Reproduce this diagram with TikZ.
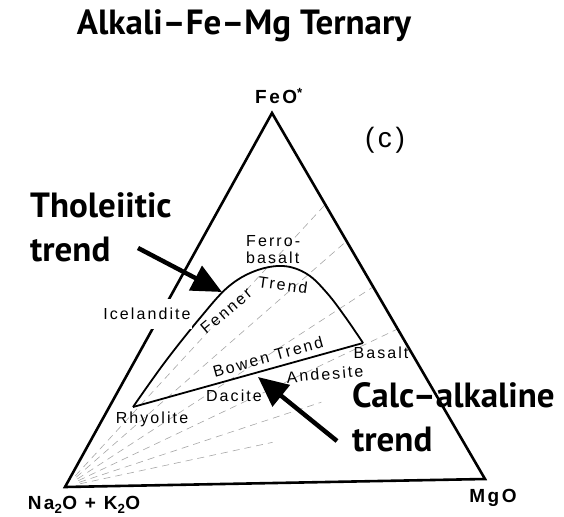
\documentclass[tikz,border=0pt]{standalone}
\usepackage{fontspec}
\setmainfont{Liberation Sans}
\newfontfamily\titlefont{PT Sans}
\newfontfamily\handfont[LetterSpace=13]{Liberation Sans}
\usetikzlibrary{arrows.meta, calc}

\begin{document}
\begin{tikzpicture}[
    x=1pt, y=-1pt,
    every node/.style={inner sep=0pt},
    edge/.style={line width=2.6pt, line join=miter},
    trend/.style={line width=1.8pt},
    tie/.style={gray!70, line width=0.6pt, dash pattern=on 7pt off 5pt},
    pointer/.style={line width=4.5pt, -{Triangle[length=30pt,width=27pt]}},
    bigtext/.style={font=\titlefont\bfseries\fontsize{35}{44}\selectfont, align=left},
    rock/.style={font=\handfont\fontsize{16}{17}\selectfont},
    corner/.style={font=\handfont\bfseries\fontsize{19}{20}\selectfont}
]
\useasboundingbox (0,0) rectangle (564,516);

% Corners
\coordinate (fe) at (272,113);
\coordinate (na) at (65,487);
\coordinate (mg) at (485,479);
\coordinate (rhy) at (133,407);
\coordinate (bas) at (363,343);

% Tie lines
\foreach \t/\f in {0.25/1, 0.35/1, 0.475/1, 0.59/1, 0.70/0.72, 0.80/0.55}
    \draw[tie] ($(na)!0.04!($(fe)!\t!(mg)$)$) -- ($(na)!\f!($(fe)!\t!(mg)$)$);

% Triangle
\draw[edge] (fe) -- (na) -- (mg) -- cycle;

% Trends
\draw[trend] plot[smooth, tension=0.6] coordinates {(rhy) (165,362) (200,318) (228,287) (255,271) (283,266) (307,274) (327,293) (346,318) (bas)};
\draw[trend] (rhy) -- (bas);

% Nodes
\node[bigtext, anchor=base] (title) at (244,35) {Alkali–Fe–Mg Ternary};
\node[corner] (feo) at (279,96) {FeO\textsuperscript{*}};
\node[corner] (na2o) at (84,505) {Na\textsubscript{2}O + K\textsubscript{2}O};
\node[corner] (mgo) at (493,498) {MgO};
\node[font=\handfont\fontsize{28}{30}\selectfont] (panel) at (385,140) {(c)};
\node[rock, fill=white, inner ysep=9pt, inner xsep=1pt] (ice) at (147,314) {Icelandite};
\node[rock, align=left, anchor=west] (ferro) at (246,250) {Ferro-\\basalt};
\node[rock, rotate=40] (fenner) at (226,311) {Fenner};
\node[rock, rotate=-8] (ftrend) at (283,285) {Trend};
\node[rock, rotate=15.5] (bowen) at (268,357) {Bowen Trend};
\node[rock] (basalt) at (381,353) {Basalt};
\node[rock, rotate=5] (andes) at (325,374) {Andesite};
\node[rock] (dacite) at (234,396) {Dacite};
\node[rock] (rhyo) at (152,419) {Rhyolite};
\node[bigtext, anchor=north west] (thol) at (30,192) {Tholeiitic\\trend};
\node[bigtext, anchor=north west] (calc) at (352,382) {Calc–alkaline\\trend};

% Arrows
\coordinate (tholtip) at (222,292);
\coordinate (calctip) at (258,377);
\draw[pointer] (138,248) -- (tholtip);
\draw[pointer] (337,441) -- (calctip);

\end{tikzpicture}
\end{document}
